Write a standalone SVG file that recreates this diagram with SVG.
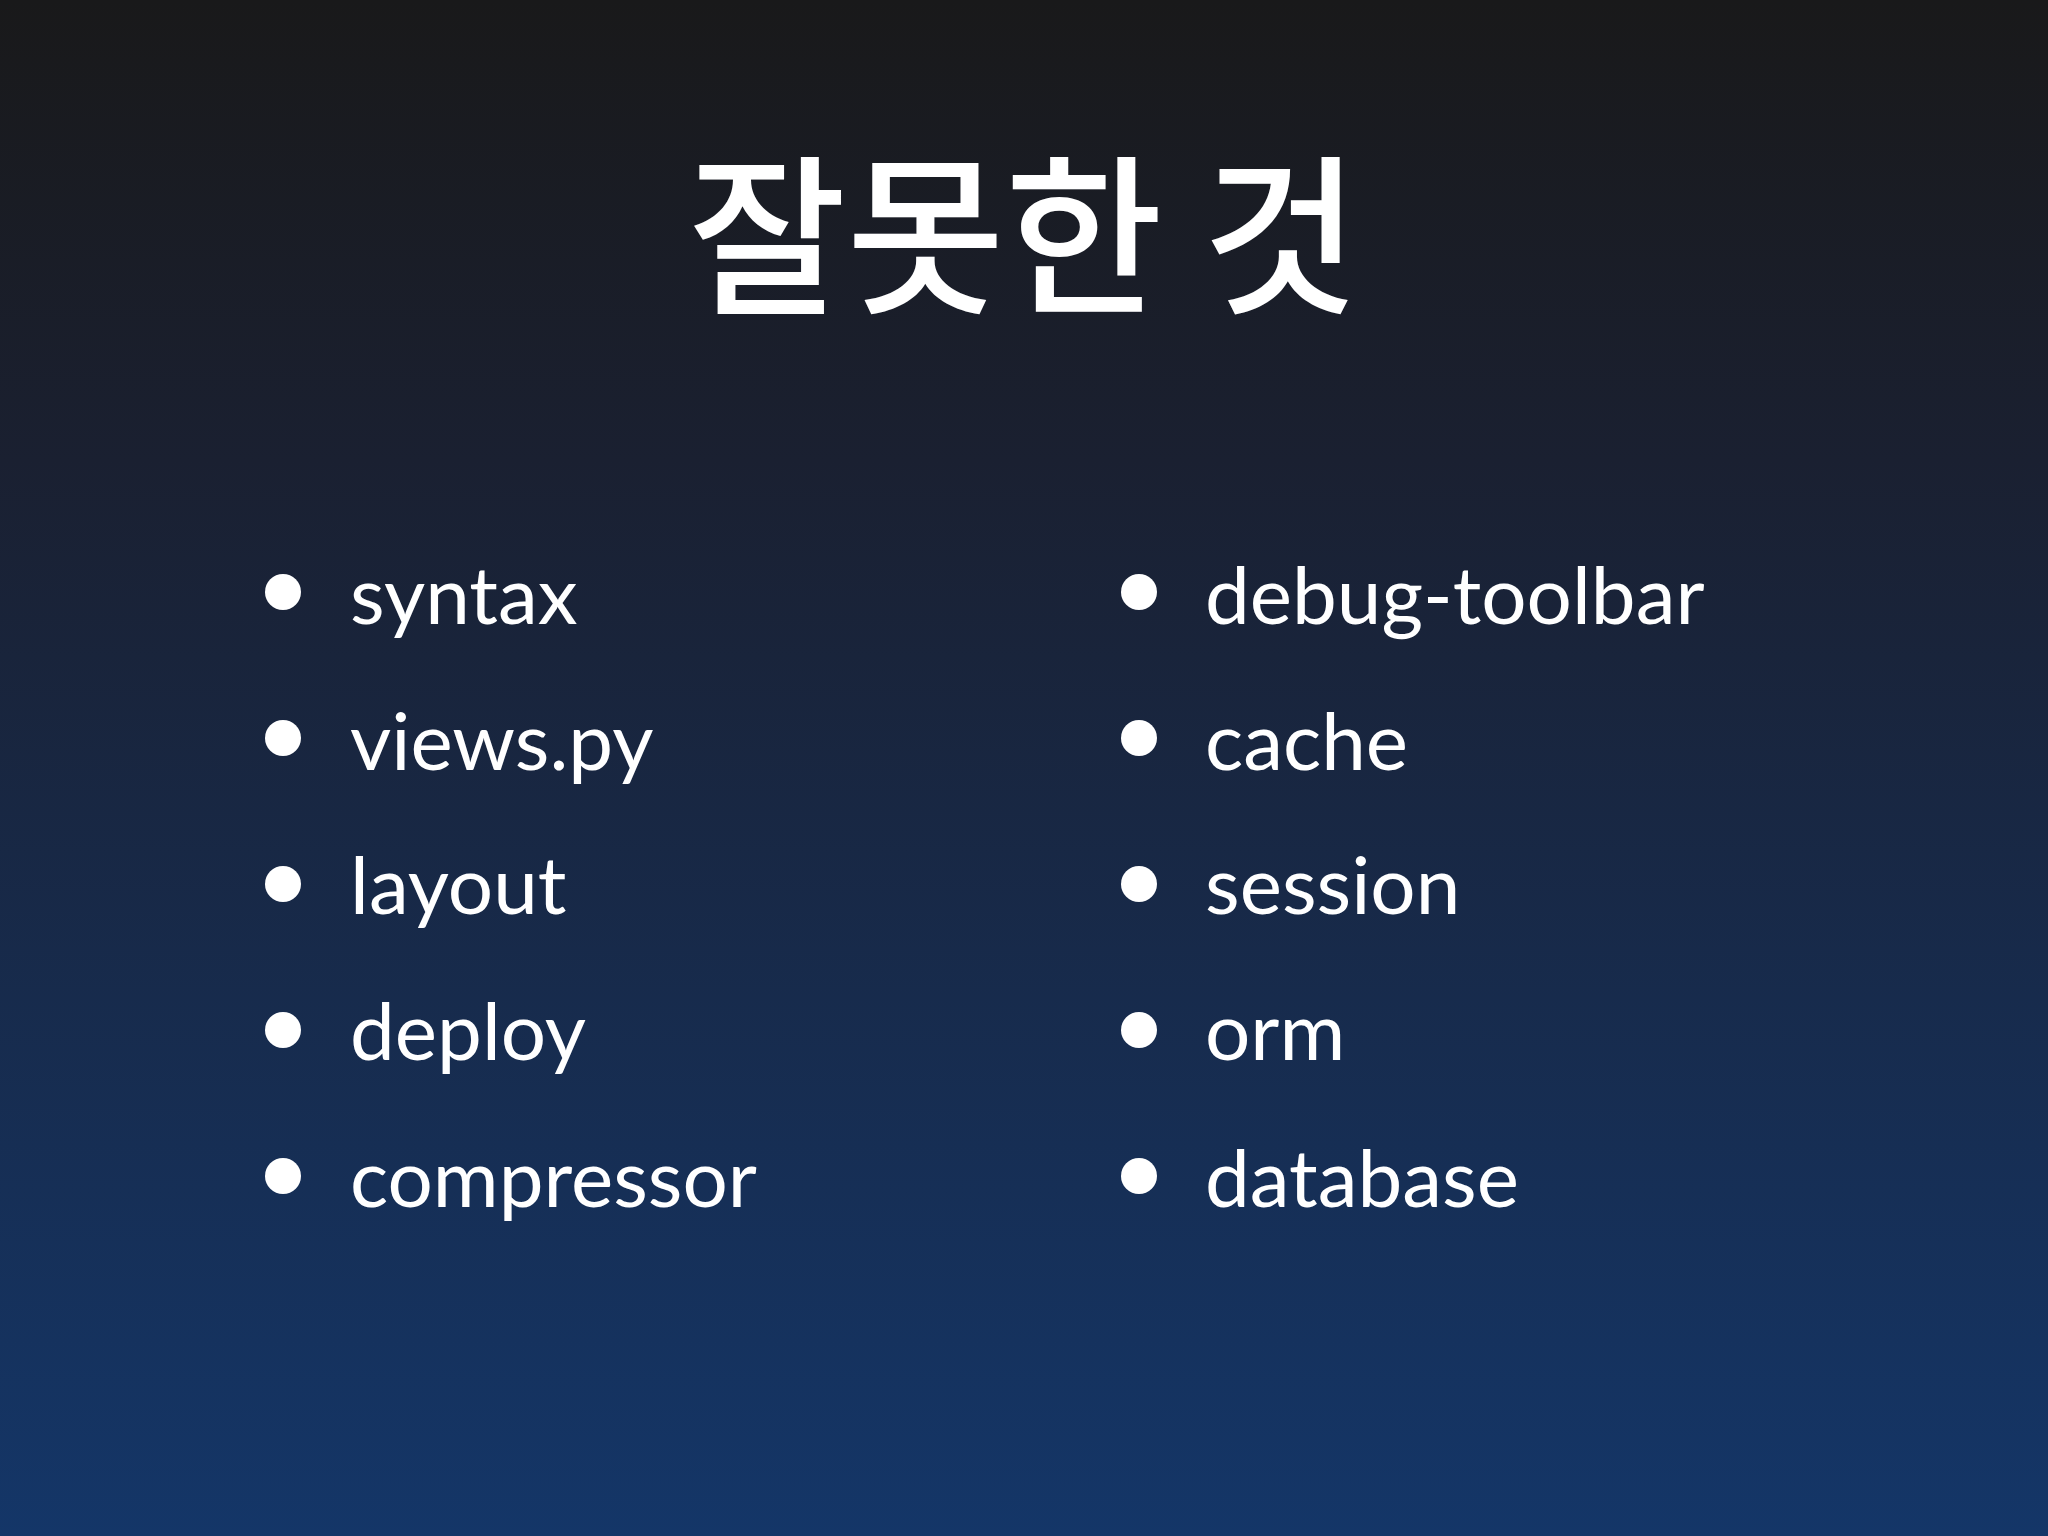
<svg xmlns="http://www.w3.org/2000/svg" width="2048" height="1536" viewBox="0 0 2048 1536">
<defs><linearGradient id="bg" x1="0" y1="0" x2="0" y2="1"><stop offset="0" stop-color="#19191a"/><stop offset="0.3" stop-color="#1a2031"/><stop offset="1" stop-color="#143668"/></linearGradient></defs>
<style>.t{font-family:"Lato","Noto Sans",sans-serif;font-size:80px;fill:#fff}.b{fill:#fff}</style>
<rect width="2048" height="1536" fill="url(#bg)"/>
<text x="1024" y="300" text-anchor="middle" font-family="'Noto Sans CJK KR',sans-serif" font-size="172" font-weight="500" fill="#fff">잘못한 것</text>
<g id="left">
<circle class="b" cx="283" cy="592" r="18"/><text class="t" x="350" y="624">syntax</text>
<circle class="b" cx="283" cy="738" r="18"/><text class="t" x="350" y="770">views.py</text>
<circle class="b" cx="283" cy="884" r="18"/><text class="t" x="350" y="914">layout</text>
<circle class="b" cx="283" cy="1030" r="18"/><text class="t" x="350" y="1060">deploy</text>
<circle class="b" cx="283" cy="1176" r="18"/><text class="t" x="350" y="1207">compressor</text>
</g>
<g id="right">
<circle class="b" cx="1139" cy="592" r="18"/><text class="t" x="1205" y="624">debug-toolbar</text>
<circle class="b" cx="1139" cy="738" r="18"/><text class="t" x="1205" y="770">cache</text>
<circle class="b" cx="1139" cy="884" r="18"/><text class="t" x="1205" y="914">session</text>
<circle class="b" cx="1139" cy="1030" r="18"/><text class="t" x="1205" y="1060">orm</text>
<circle class="b" cx="1139" cy="1176" r="18"/><text class="t" x="1205" y="1207">database</text>
</g>
</svg>
